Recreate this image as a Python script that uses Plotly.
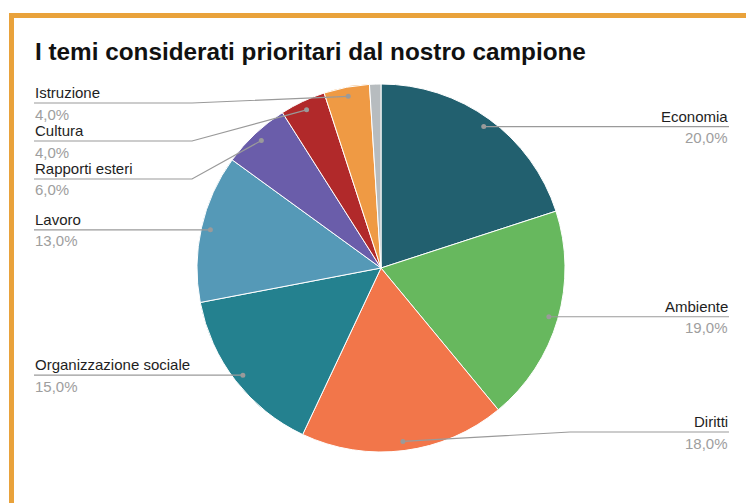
import math
import plotly.graph_objects as go

# ---- data ----
categories = ["Economia", "Ambiente", "Diritti", "Organizzazione sociale", "Lavoro",
              "Rapporti esteri", "Cultura", "Istruzione", "Altro"]
values = [20, 19, 18, 15, 13, 6, 4, 4, 1]
labelled = [True, True, True, True, True, True, True, True, False]
colors = ["#22606F", "#67B85E", "#F2764A", "#24818F", "#5599B7",
          "#6A5DAA", "#B1292A", "#EF9A44", "#B7BCBF"]
title_text = "I temi considerati prioritari dal nostro campione"

# ---- layout constants (pixels) ----
W, H = 746, 503
CX, CY, R = 381, 268, 184
DOT_R = 0.95 * R
LEFT_X, RIGHT_X = 34, 729
ELBOW_L, ELBOW_R = CX - R - 5, CX + R + 5
MIN_Y, MAX_Y, GAP = 103, 432, 38


def px(x):
    return x / W


def py(y):
    return 1 - y / H


fig = go.Figure()
fig.add_trace(go.Pie(
    labels=categories, values=values, sort=False, direction="clockwise", rotation=0,
    marker=dict(colors=colors, line=dict(color="white", width=1)),
    textinfo="none", showlegend=False,
    domain=dict(x=[px(CX - R), px(CX + R)], y=[py(CY + R), py(CY - R)]),
    hovertemplate="%{label}: %{value}%<extra></extra>",
))

total = sum(values)
cum = 0
items = []
for name, v, lab in zip(categories, values, labelled):
    mid = (cum + v / 2) / total * 2 * math.pi
    cum += v
    if not lab:
        continue
    dx = CX + DOT_R * math.sin(mid)
    dy = CY - DOT_R * math.cos(mid)
    side = "R" if mid < math.pi else "L"
    pct = f"{v / total * 100:.1f}".replace(".", ",") + "%"
    items.append(dict(name=name, pct=pct, dx=dx, dy=dy, side=side, ly=dy))

# simple label collision resolution per side
for side in ("L", "R"):
    grp = sorted([it for it in items if it["side"] == side], key=lambda it: it["dy"])
    prev = None
    for it in grp:
        y = max(it["dy"], MIN_Y)
        if prev is not None:
            y = max(y, prev + GAP)
        it["ly"] = y
        prev = y
    nxt = None
    for it in reversed(grp):
        y = min(it["ly"], MAX_Y)
        if nxt is not None:
            y = min(y, nxt - GAP)
        it["ly"] = y
        nxt = y

shapes = []
annotations = []
for it in items:
    if it["side"] == "L":
        pts = [(LEFT_X, it["ly"]), (ELBOW_L, it["ly"]), (it["dx"], it["dy"])]
        tx, anchor = LEFT_X, "left"
    else:
        pts = [(it["dx"], it["dy"]), (ELBOW_R, it["ly"]), (RIGHT_X, it["ly"])]
        tx, anchor = RIGHT_X, "right"
    path = "M " + " L ".join(f"{px(a):.5f},{py(b):.5f}" for a, b in pts)
    shapes.append(dict(type="path", path=path, xref="paper", yref="paper",
                       line=dict(color="#9a9a9a", width=1.2), layer="above"))
    shapes.append(dict(type="circle", xref="paper", yref="paper",
                       x0=px(it["dx"] - 2.5), x1=px(it["dx"] + 2.5),
                       y0=py(it["dy"] + 2.5), y1=py(it["dy"] - 2.5),
                       fillcolor="#9a9a9a", line=dict(width=0), layer="above"))
    annotations.append(dict(text=it["name"], x=px(tx), y=py(it["ly"] - 10.5),
                            xref="paper", yref="paper", xanchor=anchor, yanchor="middle",
                            showarrow=False, borderpad=0,
                            font=dict(family="Liberation Sans, Arial", size=15, color="#1e1e1e")))
    annotations.append(dict(text=it["pct"], x=px(tx), y=py(it["ly"] + 11),
                            xref="paper", yref="paper", xanchor=anchor, yanchor="middle",
                            showarrow=False, borderpad=0,
                            font=dict(family="Liberation Sans, Arial", size=15, color="#9e9e9e")))

annotations.append(dict(text="<b>" + title_text + "</b>", x=px(34), y=py(52),
                        xref="paper", yref="paper", xanchor="left", yanchor="middle",
                        showarrow=False, borderpad=0,
                        font=dict(family="Liberation Sans, Arial", size=24.3, color="#111111")))

# orange frame
shapes.append(dict(type="rect", xref="paper", yref="paper",
                   x0=px(11.5), x1=1.05, y0=-0.05, y1=py(15.5),
                   line=dict(color="#E9A23B", width=5), layer="above"))

fig.update_layout(
    width=W, height=H, margin=dict(l=0, r=0, t=0, b=0),
    paper_bgcolor="white", plot_bgcolor="white",
    shapes=shapes, annotations=annotations,
)
fig.write_html("out.html")
